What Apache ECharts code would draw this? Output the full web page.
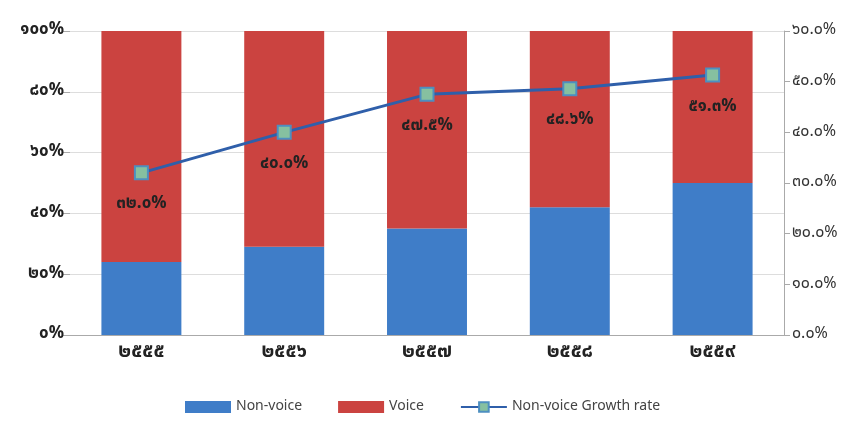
<!DOCTYPE html>
<html>
<head>
<meta charset="utf-8">
<script src="https://cdn.jsdelivr.net/npm/echarts@6/dist/echarts.min.js"></script>
<style>
  html, body { margin: 0; padding: 0; background: #fff; }
  #chart { width: 856px; height: 439px; }
</style>
</head>
<body>
<div id="chart"></div>
<script>
// ปี พ.ศ.
const years = ["๒๕๕๕", "๒๕๕๖", "๒๕๕๗", "๒๕๕๘", "๒๕๕๙"];
// สัดส่วน (%)
const nonVoice = [24, 29, 35, 42, 50];
const voice = [76, 71, 65, 58, 50];
// อัตราการเติบโต non-voice (%)
const growth = [32.0, 40.0, 47.5, 48.6, 51.3];
const leftTicks = ["๐%", "๒๐%", "๔๐%", "๖๐%", "๘๐%", "๑๐๐%"];
const rightTicks = ["๐.๐%", "๑๐.๐%", "๒๐.๐%", "๓๐.๐%", "๔๐.๐%", "๕๐.๐%", "๖๐.๐%"];

const thaiDigits = "๐๑๒๓๔๕๖๗๘๙";
function toThai(s) {
  return String(s).replace(/[0-9]/g, d => thaiDigits[+d]);
}

const font = "'Noto Sans Thai', 'Noto Sans', 'DejaVu Sans', sans-serif";
const mychart = echarts.init(document.getElementById("chart"));
mychart.setOption({
  textStyle: { fontFamily: font },
  grid: { left: 70, right: 72, top: 31, bottom: 104 },
  legend: {
    bottom: 20,
    left: 180,
    itemWidth: 46,
    itemHeight: 12,
    itemGap: 36,
    textStyle: { fontSize: 14, color: "#444" },
    data: [
      { name: "Non-voice", icon: "rect" },
      { name: "Voice", icon: "rect" },
      { name: "Non-voice Growth rate" }
    ]
  },
  xAxis: {
    type: "category",
    data: years,
    axisTick: { show: false },
    axisLine: { lineStyle: { color: "#aaa" } },
    axisLabel: { color: "#222", fontSize: 20, fontWeight: "bold", margin: 8 }
  },
  yAxis: [
    {
      type: "value",
      min: 0,
      max: 100,
      interval: 20,
      axisLine: { show: false },
      axisTick: { show: true, length: 8, lineStyle: { color: "#aaa" } },
      splitLine: { lineStyle: { color: "#ddd" } },
      axisLabel: {
        color: "#222", fontSize: 17, fontWeight: "bold", margin: 6,
        formatter: v => leftTicks[v / 20]
      }
    },
    {
      type: "value",
      min: 0,
      max: 60,
      interval: 10,
      position: "right",
      axisLine: { show: true, lineStyle: { color: "#aaa" } },
      axisTick: { show: true, length: 6, lineStyle: { color: "#aaa" } },
      splitLine: { show: false },
      axisLabel: {
        color: "#333", fontSize: 16, margin: 8,
        formatter: v => rightTicks[v / 10]
      }
    }
  ],
  series: [
    {
      name: "Non-voice",
      type: "bar",
      stack: "share",
      data: nonVoice,
      barWidth: "56%",
      itemStyle: { color: "#3f7dc8" }
    },
    {
      name: "Voice",
      type: "bar",
      stack: "share",
      data: voice,
      itemStyle: { color: "#cb4340" }
    },
    {
      name: "Non-voice Growth rate",
      type: "line",
      yAxisIndex: 1,
      data: growth,
      symbol: "rect",
      symbolSize: 13,
      lineStyle: { color: "#2f5faa", width: 3 },
      itemStyle: { color: "#86c0a0", borderColor: "#4d8fc0", borderWidth: 2 },
      label: {
        show: true,
        position: "bottom",
        distance: 16,
        color: "#222",
        fontSize: 17,
        fontWeight: "bold",
        formatter: p => toThai(p.value.toFixed(1)) + "%"
      }
    }
  ]
});
</script>
</body>
</html>
